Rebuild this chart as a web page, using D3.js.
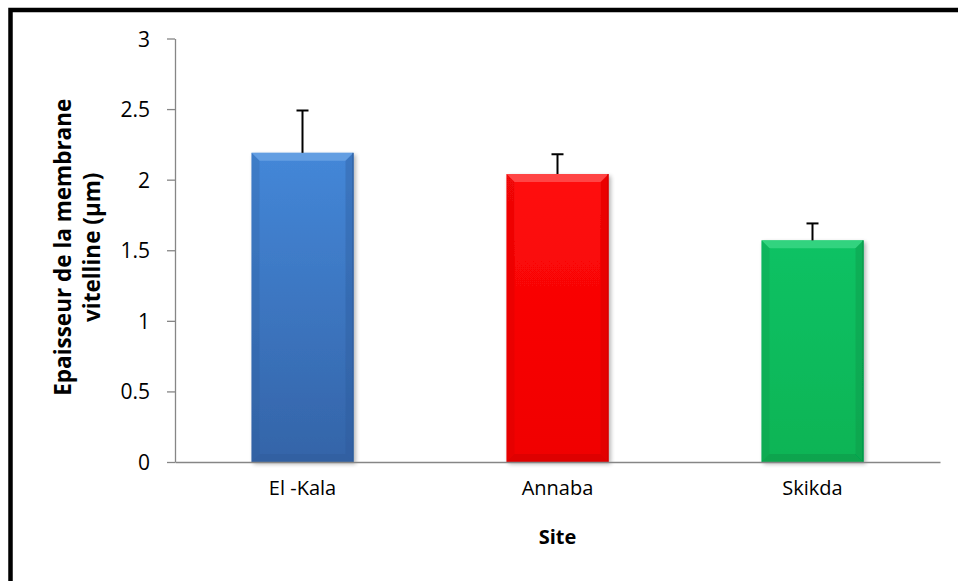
<!DOCTYPE html>
<html>
<head>
<meta charset="utf-8">
<script src="https://cdn.jsdelivr.net/npm/d3@7"></script>
<style>
  html, body { margin: 0; padding: 0; background: #fff; }
  svg { display: block; }
  text { font-family: "Open Sans", "Liberation Sans", sans-serif; fill: #000; }
</style>
</head>
<body>
<svg id="chart" width="958" height="581"></svg>
<script>
// Vitelline membrane thickness by site (mean and standard deviation)
const sites = ["El -Kala", "Annaba", "Skikda"];
const means = [2.19, 2.04, 1.57];
const errors = [0.30, 0.14, 0.12];
const yTicks = [0, 0.5, 1, 1.5, 2, 2.5, 3];
const colors = [
  { top: "#4487d8", bottom: "#3464a8", light: "#6aa2e4", dark: "#2c5a98" },
  { top: "#ff0a0a", bottom: "#f00000", light: "#ff5050", dark: "#c80000" },
  { top: "#0cc264", bottom: "#08b455", light: "#3ad684", dark: "#079046" }
];

const svg = d3.select("#chart");
const margin = { left: 175, right: 18, top: 38.5, bottom: 119 };
const W = 958, H = 581;

const x = d3.scaleBand()
  .domain(sites)
  .range([margin.left, W - margin.right])
  .paddingInner(0.6)
  .paddingOuter(0.3);

const y = d3.scaleLinear()
  .domain([0, 3])
  .range([H - margin.bottom, margin.top]);

// Outer frame (top and left edges fall inside the page)
svg.append("path")
  .attr("d", `M10.5,${H + 10} V10 H${W + 10}`)
  .attr("fill", "none")
  .attr("stroke", "#000")
  .attr("stroke-width", 4.5);

const defs = svg.append("defs");
colors.forEach((c, i) => {
  const g = defs.append("linearGradient")
    .attr("id", "grad" + i)
    .attr("x1", 0).attr("y1", 0).attr("x2", 0).attr("y2", 1);
  g.append("stop").attr("offset", "0%").attr("stop-color", c.top);
  g.append("stop").attr("offset", "100%").attr("stop-color", c.bottom);
});
const shadow = defs.append("filter").attr("id", "shadow")
  .attr("x", "-10%").attr("y", "-10%").attr("width", "130%").attr("height", "130%");
shadow.append("feGaussianBlur").attr("in", "SourceAlpha").attr("stdDeviation", 2);
shadow.append("feOffset").attr("dx", 2).attr("dy", 2).attr("result", "off");
shadow.append("feComponentTransfer").append("feFuncA").attr("type", "linear").attr("slope", 0.3);
const merge = shadow.append("feMerge");
merge.append("feMergeNode");
merge.append("feMergeNode").attr("in", "SourceGraphic");

// Y axis
const yAxis = d3.axisLeft(y)
  .tickValues(yTicks)
  .tickFormat(d3.format("~g"))
  .tickSize(8)
  .tickSizeOuter(0);
const gy = svg.append("g")
  .attr("transform", `translate(${margin.left},0)`)
  .call(yAxis);
gy.select(".domain").attr("stroke", "#868686").attr("stroke-width", 1.3);
gy.selectAll(".tick line").attr("stroke", "#868686").attr("stroke-width", 1.3);
gy.selectAll(".tick text")
  .attr("x", -25)
  .attr("dy", "0.36em")
  .attr("font-size", 21)
  .attr("fill", "#000");

// Bars with bevelled edges
const bev = 8;
const bars = svg.append("g");
sites.forEach((s, i) => {
  const x0 = x(s), w = x.bandwidth();
  const y0 = y(means[i]), y1 = y(0);
  const c = colors[i];
  const g = bars.append("g").attr("filter", "url(#shadow)");
  g.append("rect")
    .attr("x", x0).attr("y", y0)
    .attr("width", w).attr("height", y1 - y0)
    .attr("fill", `url(#grad${i})`);
  // top bevel
  g.append("path")
    .attr("d", `M${x0},${y0} H${x0 + w} L${x0 + w - bev},${y0 + bev} H${x0 + bev} Z`)
    .attr("fill", c.light).attr("opacity", 0.85);
  // side bevels
  g.append("path")
    .attr("d", `M${x0},${y0} L${x0 + bev},${y0 + bev} V${y1 - bev} L${x0},${y1} Z`)
    .attr("fill", c.dark).attr("opacity", 0.25);
  g.append("path")
    .attr("d", `M${x0 + w},${y0} L${x0 + w - bev},${y0 + bev} V${y1 - bev} L${x0 + w},${y1} Z`)
    .attr("fill", c.dark).attr("opacity", 0.35);
  // bottom bevel
  g.append("path")
    .attr("d", `M${x0},${y1} L${x0 + bev},${y1 - bev} H${x0 + w - bev} L${x0 + w},${y1} Z`)
    .attr("fill", c.dark).attr("opacity", 0.45);
  // dark edge on right side
  g.append("line")
    .attr("x1", x0 + w - 0.5).attr("x2", x0 + w - 0.5)
    .attr("y1", y0).attr("y2", y1)
    .attr("stroke", c.dark).attr("stroke-width", 1);
});

// Error bars (upper only)
const eb = svg.append("g").attr("stroke", "#000").attr("stroke-width", 2);
sites.forEach((s, i) => {
  const cx = x(s) + x.bandwidth() / 2;
  eb.append("line")
    .attr("x1", cx).attr("x2", cx)
    .attr("y1", y(means[i])).attr("y2", y(means[i] + errors[i]));
  eb.append("line")
    .attr("x1", cx - 6).attr("x2", cx + 6)
    .attr("y1", y(means[i] + errors[i])).attr("y2", y(means[i] + errors[i]));
});

// X axis
const xAxis = d3.axisBottom(x).tickSize(0).tickSizeOuter(0);
const gx = svg.append("g")
  .attr("transform", `translate(0,${y(0)})`)
  .call(xAxis);
gx.select(".domain").attr("stroke", "#868686").attr("stroke-width", 1.6);
gx.selectAll(".tick text")
  .attr("y", 26)
  .attr("dy", "0.36em")
  .attr("font-size", 20)
  .attr("fill", "#000");

// Axis titles
svg.append("text")
  .attr("x", (margin.left + W - margin.right) / 2)
  .attr("y", 544)
  .attr("text-anchor", "middle")
  .attr("font-size", 20)
  .attr("font-weight", "bold")
  .text("Site");

const yt = svg.append("text")
  .attr("transform", `translate(71,${(y(0) + y(3)) / 2 - 3}) rotate(-90)`)
  .attr("text-anchor", "middle")
  .attr("font-size", 22.5)
  .attr("font-weight", "bold");
yt.append("tspan").attr("x", 0).attr("dy", 0).text("Epaisseur de la membrane");
yt.append("tspan").attr("x", 0).attr("dy", 29).text("vitelline (µm)");
</script>
</body>
</html>
